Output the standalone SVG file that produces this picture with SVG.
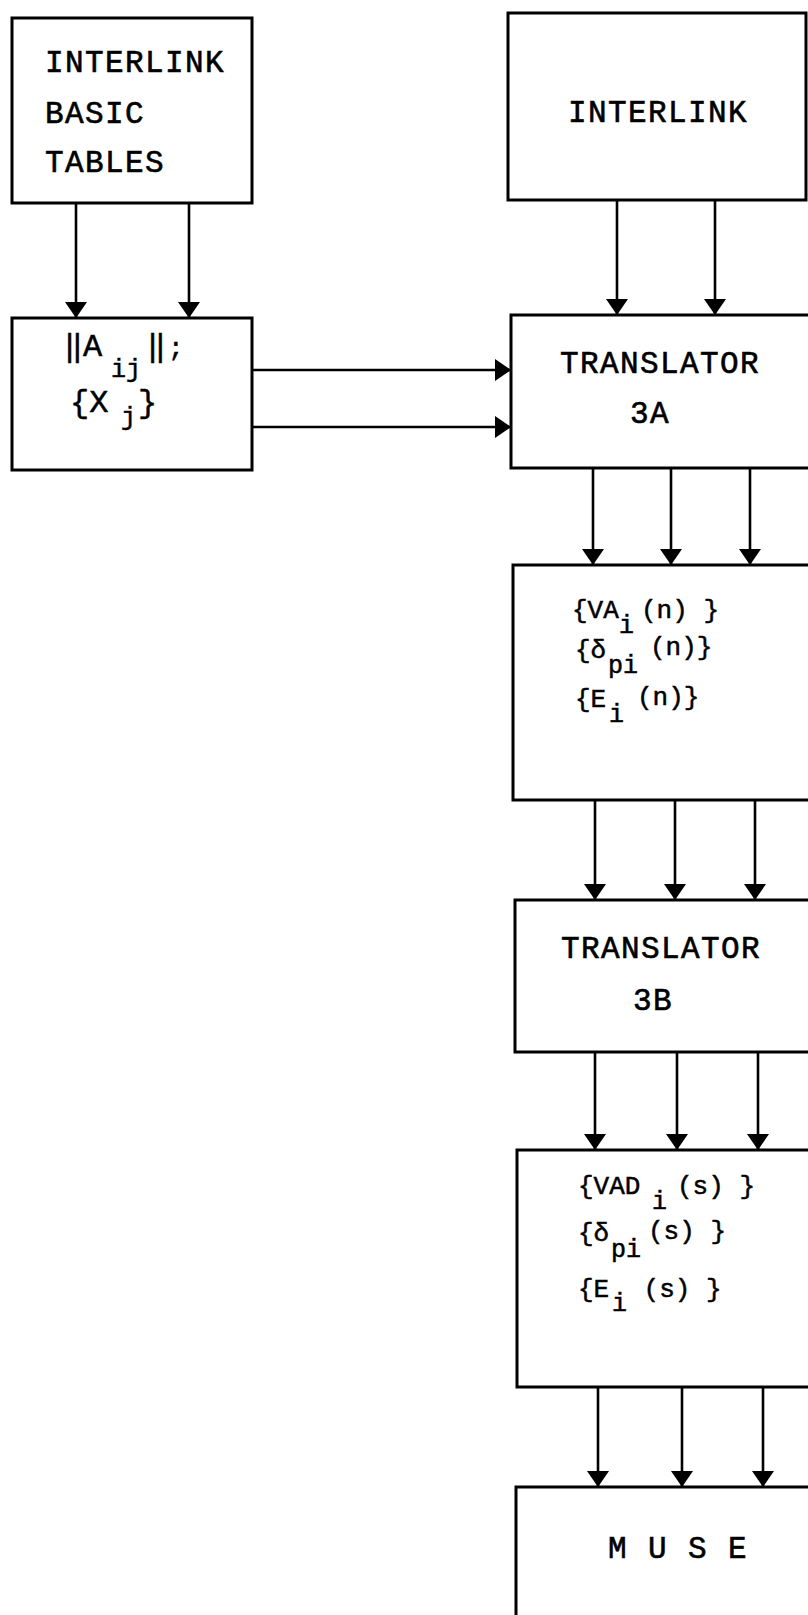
<svg xmlns="http://www.w3.org/2000/svg" width="808" height="1615" viewBox="0 0 808 1615">
<style>
.box{fill:none;stroke:#000;stroke-width:3}
.lbl{font-family:"Liberation Mono","DejaVu Sans Mono",monospace;font-size:31px;letter-spacing:1.4px;fill:#000;stroke:#000;stroke-width:0.6}
.f{font-family:"Liberation Mono","DejaVu Sans Mono",monospace;font-size:26px;fill:#000;stroke:#000;stroke-width:0.5}
.sub{font-size:25px}
.big{font-size:32px}
.bars{letter-spacing:-11.5px}
.con line{stroke:#000;stroke-width:2.6;marker-end:url(#ah)}
</style>
<defs>
<marker id="ah" markerUnits="userSpaceOnUse" viewBox="0 0 16 22" refX="15" refY="11" markerWidth="16" markerHeight="22" orient="auto">
<path d="M0,0 L16,11 L0,22 Z" fill="#000"/>
</marker>
</defs>
<rect width="808" height="1615" fill="#fff"/>

<g id="basic-tables">
<rect class="box" x="12" y="18" width="240" height="185"/>
<text class="lbl" x="45" y="72">INTERLINK</text>
<text class="lbl" x="45" y="123">BASIC</text>
<text class="lbl" x="45" y="172">TABLES</text>
</g>

<g id="aij-xj">
<rect class="box" x="12" y="318" width="240" height="152"/>
<text class="f"><tspan class="big bars" x="60" y="356">||</tspan><tspan class="big" x="83" y="356">A</tspan><tspan class="sub" x="111" y="377" font-size="28">ij</tspan><tspan class="big bars" x="143" y="356">||</tspan><tspan x="168" y="356">;</tspan></text>
<text class="f"><tspan class="big" x="70" y="412">{X</tspan><tspan class="sub" x="121" y="425" font-size="28">j</tspan><tspan class="big" x="138" y="412">}</tspan></text>
</g>

<g id="interlink">
<rect class="box" x="508" y="13" width="298" height="187"/>
<text class="lbl" x="568" y="122">INTERLINK</text>
</g>

<g id="translator-3a">
<rect class="box" x="511" y="315" width="320" height="153"/>
<text class="lbl" x="560" y="373">TRANSLATOR</text>
<text class="lbl" x="630" y="423">3A</text>
</g>

<g id="vectors-n">
<rect class="box" x="513" y="565" width="320" height="235"/>
<text class="f"><tspan x="572" y="618">{VA</tspan><tspan class="sub" x="619" y="633">i</tspan><tspan x="641" y="618">(n) }</tspan></text>
<text class="f"><tspan x="575" y="658">{δ</tspan><tspan class="sub" x="608" y="673">pi</tspan><tspan x="650" y="655">(n)}</tspan></text>
<text class="f"><tspan x="575" y="707">{E</tspan><tspan class="sub" x="609" y="722">i</tspan><tspan x="637" y="705">(n)}</tspan></text>
</g>

<g id="translator-3b">
<rect class="box" x="515" y="900" width="320" height="152"/>
<text class="lbl" x="561" y="958">TRANSLATOR</text>
<text class="lbl" x="633" y="1010">3B</text>
</g>

<g id="vectors-s">
<rect class="box" x="517" y="1150" width="320" height="237"/>
<text class="f"><tspan x="578" y="1194">{VAD</tspan><tspan class="sub" x="652" y="1209">i</tspan><tspan x="677" y="1194">(s) }</tspan></text>
<text class="f"><tspan x="578" y="1241">{δ</tspan><tspan class="sub" x="611" y="1257">pi</tspan><tspan x="648" y="1239">(s) }</tspan></text>
<text class="f"><tspan x="578" y="1297">{E</tspan><tspan class="sub" x="612" y="1311">i</tspan><tspan x="628" y="1297"> (s) }</tspan></text>
</g>

<g id="muse">
<rect class="box" x="516" y="1487" width="320" height="160"/>
<text class="lbl" x="608" y="1558" letter-spacing="-1.2">M U S E</text>
</g>

<g id="connectors" class="con">
<line x1="76" y1="203" x2="76" y2="317"/>
<line x1="189" y1="203" x2="189" y2="317"/>
<line x1="617" y1="200" x2="617" y2="314"/>
<line x1="715" y1="200" x2="715" y2="314"/>
<line x1="252" y1="370" x2="510" y2="370"/>
<line x1="252" y1="427" x2="510" y2="427"/>
<line x1="593" y1="468" x2="593" y2="564"/>
<line x1="671" y1="468" x2="671" y2="564"/>
<line x1="750" y1="468" x2="750" y2="564"/>
<line x1="595" y1="800" x2="595" y2="899"/>
<line x1="675" y1="800" x2="675" y2="899"/>
<line x1="755" y1="800" x2="755" y2="899"/>
<line x1="595" y1="1052" x2="595" y2="1149"/>
<line x1="677" y1="1052" x2="677" y2="1149"/>
<line x1="758" y1="1052" x2="758" y2="1149"/>
<line x1="598" y1="1387" x2="598" y2="1486"/>
<line x1="682" y1="1387" x2="682" y2="1486"/>
<line x1="763" y1="1387" x2="763" y2="1486"/>
</g>
</svg>
